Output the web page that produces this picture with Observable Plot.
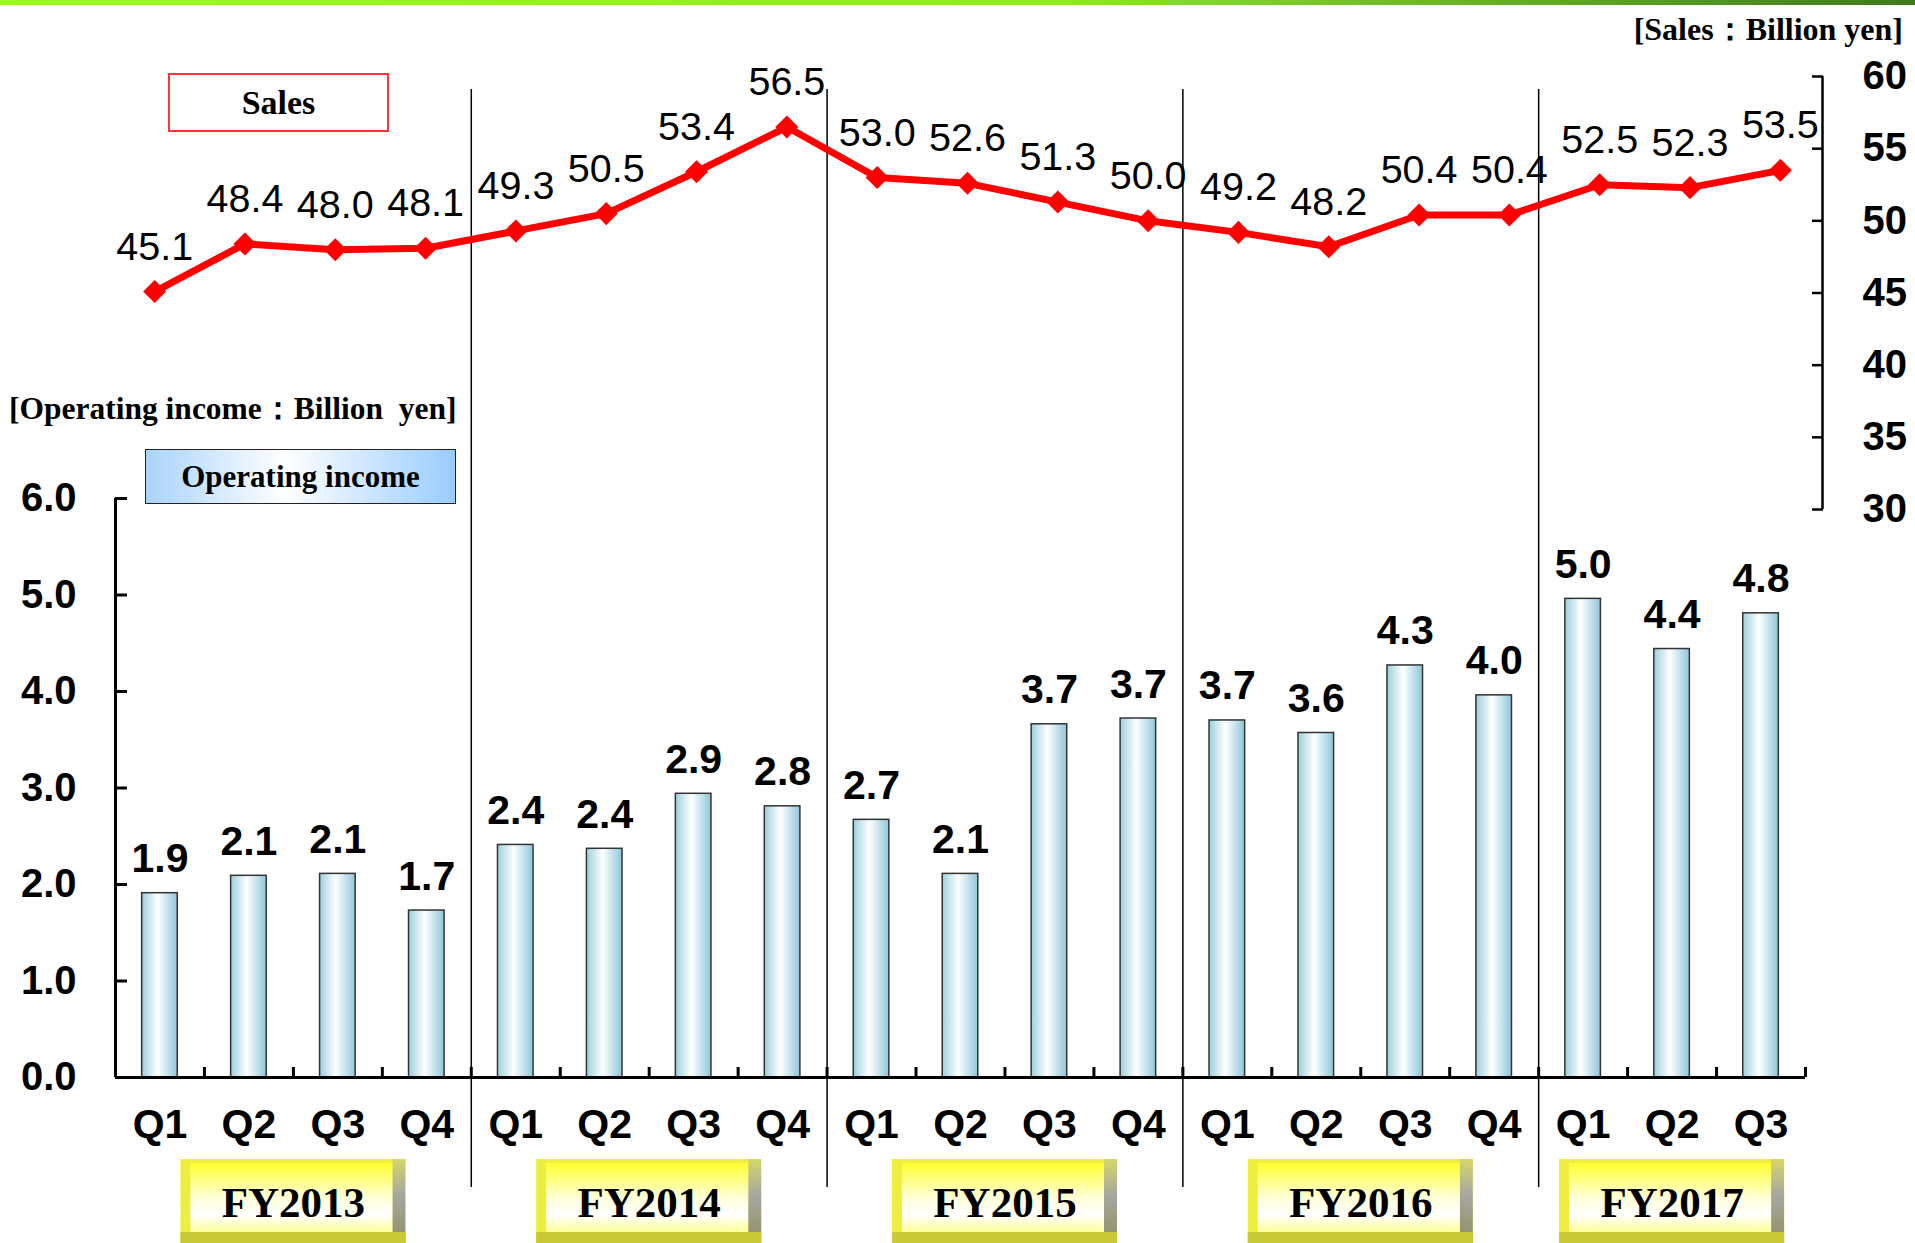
<!DOCTYPE html>
<html>
<head>
<meta charset="utf-8">
<script src="https://cdn.jsdelivr.net/npm/d3@7"></script>
<script src="https://cdn.jsdelivr.net/npm/@observablehq/plot@0.6"></script>
<style>
  html, body { margin: 0; padding: 0; background: #fff; }
  #wrap { position: relative; width: 1915px; height: 1243px; overflow: hidden; background: #fff; }
  #topbar { position: absolute; left: 0; top: 0; width: 1915px; height: 5px;
    background: linear-gradient(to right, #9cf533, #8fe830 55%, #3e7a1c); }
  .layer { position: absolute; left: 0; top: 0; }
  .serif { font-family: "Liberation Serif", "Times New Roman", serif; font-weight: bold; color: #000; white-space: pre; }
  .unit { position: absolute; line-height: 36px; }
  .box { position: absolute; display: flex; align-items: center; justify-content: center; box-sizing: border-box; }
</style>
</head>
<body>
<div id="wrap">
  <div id="topbar"></div>
  <div id="oi" class="layer"></div>
  <div id="sales" class="layer"></div>
  <div class="serif unit" style="right:12px; top:11px; font-size:32px;">[Sales：Billion yen]</div>
  <div class="serif unit" style="left:9px; top:391px; font-size:31.5px;">[Operating income：Billion  yen]</div>
  <div class="serif box" style="left:168px; top:73px; width:221px; height:59px; border:2px solid #ff3333; font-size:34px; background:#fff;">Sales</div>
  <div class="serif box" style="left:145px; top:449px; width:311px; height:55px; border:1.5px solid #222; font-size:31px; background:linear-gradient(to right,#a9d3fb,#ffffff 45%,#99ccff);">Operating income</div>
</div>
<script>
// ---------- data ----------
const quarters = ["Q1","Q2","Q3","Q4","Q1","Q2","Q3","Q4","Q1","Q2","Q3","Q4","Q1","Q2","Q3","Q4","Q1","Q2","Q3"];
const quarterFiscalYear = ["FY2013","FY2013","FY2013","FY2013","FY2014","FY2014","FY2014","FY2014",
  "FY2015","FY2015","FY2015","FY2015","FY2016","FY2016","FY2016","FY2016","FY2017","FY2017","FY2017"];
const fiscalYears = ["FY2013","FY2014","FY2015","FY2016","FY2017"];
const sales = [45.1, 48.4, 48.0, 48.1, 49.3, 50.5, 53.4, 56.5, 53.0, 52.6, 51.3, 50.0, 49.2, 48.2, 50.4, 50.4, 52.5, 52.3, 53.5];
const operatingIncome = [1.91, 2.09, 2.11, 1.73, 2.41, 2.37, 2.94, 2.81, 2.67, 2.11, 3.66, 3.72, 3.70, 3.57, 4.27, 3.96, 4.96, 4.44, 4.81];
const salesTicks = [30, 35, 40, 45, 50, 55, 60];
const incomeTicks = [0, 1, 2, 3, 4, 5, 6];

// ---------- tables ----------
const rows = quarters.map((q, i) => ({i, q, fy: quarterFiscalYear[i], sales: sales[i], oi: operatingIncome[i]}));
const fyGroups = fiscalYears.map(label => {
  const idx = rows.filter(r => r.fy === label).map(r => r.i);
  return {label, center: d3.mean(idx), first: d3.min(idx)};
});
const dividers = fyGroups.slice(1).map(g => g.first - 0.5);
const boundaries = d3.range(1, quarters.length + 1).map(k => k - 0.5);

const W = 1915, H = 1243;
const xDomain = [-0.5, quarters.length - 0.5];
const barHalf = 0.2;
const boxHalf = 1.265;
const font = "Liberation Sans, Arial, Helvetica, sans-serif";

// ---------- operating income (bars) ----------
const oiPlot = Plot.plot({
  width: W, height: H,
  marginLeft: 115, marginRight: 110, marginTop: 498, marginBottom: 166,
  x: {domain: xDomain, axis: null},
  y: {domain: [0, 6], axis: null},
  style: {background: "transparent", fontFamily: font, color: "#000", overflow: "visible"},
  marks: [
    // fiscal year boxes (bevelled)
    Plot.rect(fyGroups, {x1: d => d.center - boxHalf, x2: d => d.center + boxHalf, fill: "#eeee40", insetTop: 661, insetBottom: -170}),
    Plot.rect(fyGroups, {x1: d => d.center - boxHalf, x2: d => d.center + boxHalf, fill: "url(#fyRight)", insetLeft: 212, insetTop: 661, insetBottom: -170}),
    Plot.rect(fyGroups, {x1: d => d.center - boxHalf, x2: d => d.center + boxHalf, fill: "#c9c935", insetTop: 734, insetBottom: -170}),
    Plot.rect(fyGroups, {x1: d => d.center - boxHalf, x2: d => d.center + boxHalf, fill: "url(#fyFace)", insetLeft: 10, insetRight: 13, insetTop: 665, insetBottom: -155}),
    Plot.text(fyGroups, {x: "center", frameAnchor: "bottom", dy: 126, text: "label", lineAnchor: "middle",
      fontFamily: "Liberation Serif, Times New Roman, serif", fontSize: 43, fontWeight: "bold", fill: "#000"}),
    // fiscal year dividers
    Plot.ruleX(dividers, {stroke: "#000", strokeWidth: 1.5, insetTop: -409, insetBottom: -110}),
    // bars
    Plot.rect(rows, {x1: d => d.i - barHalf, x2: d => d.i + barHalf, y1: 0, y2: "oi",
      fill: "url(#barGrad)", stroke: "#333", strokeWidth: 1.5}),
    Plot.text(rows, {x: "i", y: "oi", text: d => d.oi.toFixed(1), lineAnchor: "bottom", dy: -21,
      fontSize: 41, fontWeight: "bold", fill: "#000"}),
    // axes
    Plot.ruleY([0], {stroke: "#000", strokeWidth: 3}),
    Plot.ruleX([xDomain[0]], {y1: 0, y2: 6, stroke: "#000", strokeWidth: 3}),
    Plot.ruleX(boundaries, {stroke: "#000", strokeWidth: 3, insetTop: 569}),
    Plot.axisY(incomeTicks, {anchor: "left", label: null, tickSize: 12, dx: 12, tickPadding: 39, strokeWidth: 3,
      tickFormat: d3.format(".1f"), fontSize: 40, fontWeight: "bold"}),
    Plot.axisX(d3.range(quarters.length), {anchor: "bottom", label: null, tickSize: 0, tickPadding: 31,
      tickFormat: i => quarters[i], fontSize: 41, fontWeight: "bold"})
  ]
});

// gradients
const defs = d3.select(oiPlot).insert("defs", ":first-child");
function gradient(id, vertical, stops) {
  const g = defs.append("linearGradient").attr("id", id)
    .attr("x1", 0).attr("y1", 0).attr("x2", vertical ? 0 : 1).attr("y2", vertical ? 1 : 0);
  stops.forEach(([o, c]) => g.append("stop").attr("offset", o).attr("stop-color", c));
}
gradient("barGrad", false, [[0, "#9ccfdc"], [0.45, "#ffffff"], [1, "#8ec6da"]]);
gradient("fyFace", true, [[0, "#ffff30"], [0.5, "#ffffd8"], [0.75, "#ffffff"], [1, "#ffff9a"]]);
gradient("fyRight", true, [[0, "#d6d66a"], [0.4, "#a8a8a0"], [1, "#8c8c60"]]);

document.getElementById("oi").appendChild(oiPlot);

// ---------- sales (line) ----------
// the line chart's category axis is slightly wider than the bar chart's
const salesPlot = Plot.plot({
  width: W, height: H,
  marginLeft: 109, marginRight: 90, marginTop: 76, marginBottom: H - 509,
  x: {domain: xDomain, axis: null},
  y: {domain: [30, 60], axis: null},
  style: {background: "transparent", fontFamily: font, color: "#000", overflow: "visible"},
  marks: [
    Plot.ruleX([xDomain[1]], {y1: 30, y2: 60, dx: -3, stroke: "#000", strokeWidth: 2.5}),
    Plot.axisY(salesTicks, {anchor: "right", label: null, tickSize: 11, dx: -14, tickPadding: 40, strokeWidth: 2.5,
      fontSize: 40, fontWeight: "bold"}),
    Plot.line(rows, {x: "i", y: "sales", stroke: "#ff0000", strokeWidth: 7}),
    Plot.dot(rows, {x: "i", y: "sales", symbol: "square", rotate: 45, r: 9.2, fill: "#ff0000"}),
    Plot.text(rows, {x: "i", y: "sales", text: d => d.sales.toFixed(1), lineAnchor: "bottom", dy: -32,
      fontSize: 39.5, fill: "#000"})
  ]
});
document.getElementById("sales").appendChild(salesPlot);
</script>
</body>
</html>
